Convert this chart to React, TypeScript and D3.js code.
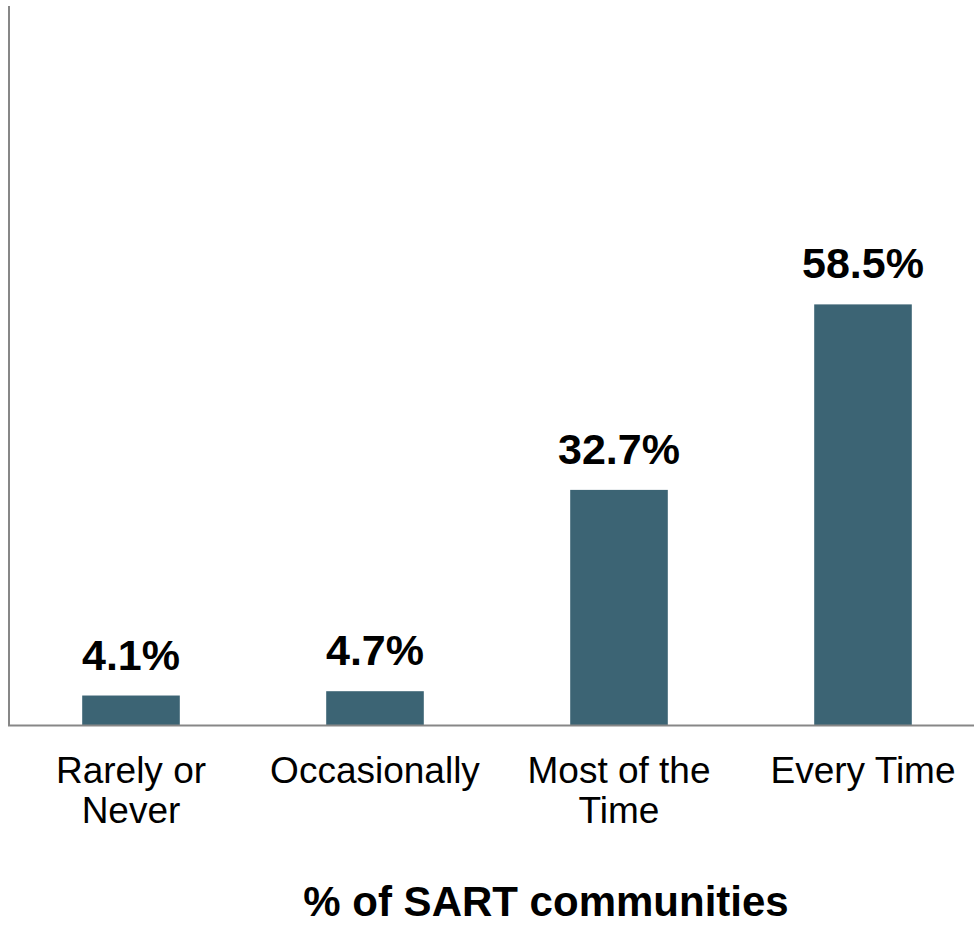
import React from 'react';
import * as d3 from 'd3';

const categories = ['Rarely or Never', 'Occasionally', 'Most of the Time', 'Every Time'];
const categoryLines = [['Rarely or', 'Never'], ['Occasionally'], ['Most of the', 'Time'], ['Every Time']];
const values = [4.1, 4.7, 32.7, 58.5];
const axisTitle = '% of SART communities';

const width = 974;
const height = 926;
const font = '"Liberation Sans", Arial, sans-serif';

export default function App() {
  const x = d3.scaleBand<string>()
    .domain(categories)
    .range([9, 985])
    .paddingInner(0.6)
    .paddingOuter(0.3);

  const y = d3.scaleLinear()
    .domain([0, 100])
    .range([725, 6]);

  const step = x.step();

  return (
    <svg
      width={width}
      height={height}
      style={{ position: 'absolute', left: 0, top: 0, background: '#fff' }}
    >
      {/* bars */}
      {categories.map((c, i) => (
        <rect
          key={c}
          x={x(c)}
          y={y(values[i])}
          width={x.bandwidth()}
          height={y(0) - y(values[i])}
          fill="#3c6474"
        />
      ))}

      {/* axes lines */}
      <line x1={9} x2={9} y1={y(100)} y2={y(0) + 1} stroke="#878787" strokeWidth={2} />
      <line x1={8} x2={width} y1={y(0) + 0.5} y2={y(0) + 0.5} stroke="#878787" strokeWidth={2} />

      {/* value labels */}
      {categories.map((c, i) => (
        <text
          key={c}
          x={(x(c) ?? 0) + x.bandwidth() / 2}
          y={y(values[i]) - 26}
          textAnchor="middle"
          fontFamily={font}
          fontWeight="bold"
          fontSize={43}
          fill="#000"
        >
          {values[i].toFixed(1)}%
        </text>
      ))}

      {/* category labels */}
      {categories.map((c, i) => (
        <text
          key={c}
          x={(x(c) ?? 0) + x.bandwidth() / 2}
          y={783}
          textAnchor="middle"
          fontFamily={font}
          fontSize={37}
          fill="#000"
        >
          {categoryLines[i].map((line, j) => (
            <tspan key={j} x={(x(c) ?? 0) + x.bandwidth() / 2} dy={j === 0 ? 0 : 40}>
              {line}
            </tspan>
          ))}
        </text>
      ))}

      {/* axis title */}
      <text
        x={9 + step * 2 + 49}
        y={916}
        textAnchor="middle"
        fontFamily={font}
        fontWeight="bold"
        fontSize={42}
        fill="#000"
      >
        {axisTitle}
      </text>
    </svg>
  );
}
